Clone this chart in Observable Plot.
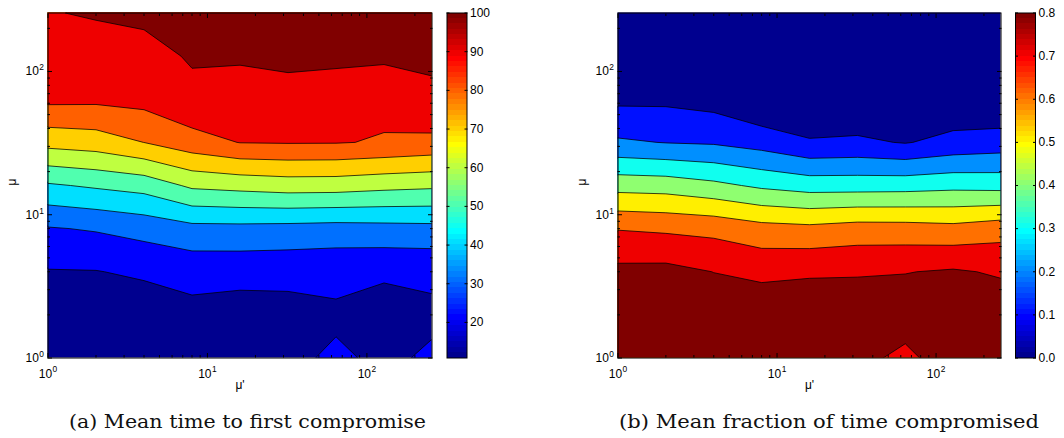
<!DOCTYPE html>
<html>
<head>
<meta charset="utf-8">
<script src="https://cdn.jsdelivr.net/npm/d3@7"></script>
<script src="https://cdn.jsdelivr.net/npm/@observablehq/plot@0.6"></script>
<style>
  body { margin: 0; background: #fff; }
  #fig { position: relative; width: 1064px; height: 438px; overflow: hidden; background: #fff; }
  #fig > svg, #fig > div { position: absolute; top: 0; }
  #fig text { font-family: 'Liberation Sans', Arial, Helvetica, sans-serif; }
  #fig text.caption { font-family: 'DejaVu Serif', 'Liberation Serif', serif; }
</style>
</head>
<body>
<div id="fig"></div>
<script>
// ---------- data ----------
const muPrime = [1, 2, 4, 8, 16, 32, 64, 128, 256];   // x grid
const mu      = [1, 2, 4, 8, 16, 32, 64, 128, 256];   // y grid

// (a) mean time to first compromise; rows = mu (1 -> 256), columns = mu'
const meanTime = [
  [12.0, 11.5, 11.0, 10.8, 12.0, 18.0, 21.0, 18.2, 20.9],
  [15.5, 15.5, 14.0, 17.1, 15.6, 16.4, 18.4, 15.5, 18.2],
  [19.2, 19.4, 21.2, 22.8, 22.8, 22.5, 22.0, 21.2, 21.3],
  [28.0, 29.4, 31.8, 34.9, 35.0, 34.6, 34.0, 34.5, 35.0],
  [45.4, 47.7, 49.9, 57.0, 58.4, 59.7, 59.5, 58.0, 57.0],
  [67.3, 68.8, 73.3, 78.5, 82.4, 82.7, 82.6, 81.5, 80.0],
  [84.3, 84.0, 85.0, 89.5, 89.5, 90.0, 89.8, 84.4, 90.0],
  [88.5, 89.5, 89.0, 91.7, 91.5, 91.75, 91.6, 92.7, 92.0],
  [90.9, 91.4, 92.4, 95.5, 98.0, 100.0, 99.0, 98.5, 97.0]
];

// (b) mean fraction of time compromised; rows = mu (1 -> 256), columns = mu'
const meanFraction = [
  [0.790, 0.795, 0.800, 0.790, 0.785, 0.744, 0.683, 0.776, 0.780],
  [0.770, 0.775, 0.760, 0.774, 0.773, 0.775, 0.768, 0.755, 0.767],
  [0.734, 0.737, 0.710, 0.690, 0.700, 0.702, 0.708, 0.721, 0.701],
  [0.618, 0.608, 0.597, 0.565, 0.555, 0.572, 0.570, 0.560, 0.585],
  [0.411, 0.405, 0.377, 0.340, 0.317, 0.317, 0.320, 0.331, 0.325],
  [0.190, 0.175, 0.168, 0.141, 0.096, 0.104, 0.084, 0.115, 0.130],
  [0.070, 0.071, 0.054, 0.002, 0.020, 0.010, 0.020, 0.019, 0.005],
  [0.030, 0.030, 0.020, 0.010, 0.010, 0.010, 0.010, 0.010, 0.005],
  [0.010, 0.010, 0.005, 0.000, 0.000, 0.000, 0.000, 0.000, 0.000]
];

const timeLevels     = [19.72, 28.64, 37.56, 46.48, 55.40, 64.32, 73.24, 82.16, 91.08];
const fractionLevels = [0.0889, 0.1778, 0.2667, 0.3556, 0.4444, 0.5333, 0.6222, 0.7111];
const timeRange      = [10.8, 100];
const fractionRange  = [0, 0.8];
const timeTicks      = [20, 30, 40, 50, 60, 70, 80, 90, 100];
const fractionTicks  = [0, 0.1, 0.2, 0.3, 0.4, 0.5, 0.6, 0.7, 0.8];
const decadeTicks    = [1, 10, 100];
const minorTicks     = [2, 3, 4, 5, 6, 7, 8, 9, 20, 30, 40, 50, 60, 70, 80, 90, 200];
const captionA = "(a) Mean time to first compromise";
const captionB = "(b) Mean fraction of time compromised";

// ---------- MATLAB jet(64) colormap ----------
function jet64(j) { // j: 1..64
  const u = k => (k < 1 || k > 47) ? 0 : k <= 16 ? k / 16 : k <= 31 ? 1 : (48 - k) / 16;
  const r = j >= 25 ? u(j - 24) : 0;
  const g = (j >= 9 && j <= 55) ? u(j - 8) : 0;
  const b = j <= 39 ? u(j + 8) : 0;
  return d3.rgb(Math.round(r * 255), Math.round(g * 255), Math.round(b * 255)).formatHex();
}

const FONT = "'Liberation Sans', Arial, Helvetica, sans-serif";
const ns = "http://www.w3.org/2000/svg";

function superscripts(svg) {
  svg.querySelectorAll("text").forEach(t => {
    const m = /^10\^(-?\d+)$/.exec(t.textContent);
    if (!m) return;
    t.textContent = "";
    const base = document.createElementNS(ns, "tspan");
    base.textContent = "10";
    const exp = document.createElementNS(ns, "tspan");
    exp.textContent = m[1];
    exp.setAttribute("font-size", "70%");
    exp.setAttribute("dy", "-0.6em");
    exp.setAttribute("dx", "0.5");
    t.appendChild(base);
    t.appendChild(exp);
  });
}

function contourPanel(values, levels, range, layout) {
  const lx = muPrime.map(Math.log10), ly = mu.map(Math.log10);
  const nx = lx.length, ny = ly.length;
  const sx = lx[1] - lx[0], sy = ly[1] - ly[0];
  const thresholds = [range[0] - 1, ...levels];
  const colors = thresholds.map((_, k) => jet64(Math.min(64, Math.floor(k / levels.length * 64) + 1)));
  const major = decadeTicks.map(Math.log10), minor = minorTicks.map(Math.log10);
  const svg = Plot.plot({
    width: layout.width, height: layout.height,
    marginLeft: layout.ml, marginRight: layout.mr, marginTop: layout.mt, marginBottom: layout.mb,
    style: {fontFamily: FONT, fontSize: "12px", color: "black", background: "transparent", overflow: "visible"},
    x: {type: "linear", domain: [lx[0], lx[nx - 1]]},
    y: {type: "linear", domain: [ly[0], ly[ny - 1]]},
    color: {type: "ordinal", domain: thresholds, range: colors},
    marks: [
      Plot.contour(values.flat(), {
        width: nx, height: ny,
        x1: lx[0] - sx / 2, x2: lx[nx - 1] + sx / 2,
        y1: ly[0] - sy / 2, y2: ly[ny - 1] + sy / 2,
        value: d => d,
        thresholds,
        fill: "value", stroke: "black", strokeWidth: 0.75, clip: true
      }),
      Plot.frame({stroke: "black", strokeWidth: 1}),
      // inward ticks, all four sides
      Plot.axisX({ticks: major, anchor: "bottom", tickSize: -4.5, fill: "none", label: null}),
      Plot.axisX({ticks: major, anchor: "top", tickSize: -4.5, fill: "none", label: null}),
      Plot.axisX({ticks: minor, anchor: "bottom", tickSize: -2.5, fill: "none", label: null}),
      Plot.axisX({ticks: minor, anchor: "top", tickSize: -2.5, fill: "none", label: null}),
      Plot.axisY({ticks: major, anchor: "left", tickSize: -4.5, fill: "none", label: null}),
      Plot.axisY({ticks: major, anchor: "right", tickSize: -4.5, fill: "none", label: null}),
      Plot.axisY({ticks: minor, anchor: "left", tickSize: -2.5, fill: "none", label: null}),
      Plot.axisY({ticks: minor, anchor: "right", tickSize: -2.5, fill: "none", label: null}),
      // tick labels
      Plot.axisX({ticks: major, anchor: "bottom", tickSize: 0, tickPadding: 11, stroke: "none",
                  tickFormat: d => "10^" + Math.round(d), label: null, fontSize: 12}),
      Plot.axisY({ticks: major, anchor: "left", tickSize: 0, tickPadding: 4, stroke: "none",
                  tickFormat: d => "10^" + Math.round(d), label: null, fontSize: 12}),
      // axis titles
      Plot.text(["μ'"], {frameAnchor: "bottom", dy: 31, fontSize: 12, fill: "black"}),
      Plot.text(["μ"], {frameAnchor: "left", dx: -36, rotate: -90, fontSize: 12, fill: "black"})
    ]
  });
  superscripts(svg);
  svg.style.left = layout.left + "px";
  return svg;
}

function colorbar(range, ticks, layout) {
  const steps = d3.range(64).map(i => ({
    y1: range[0] + i * (range[1] - range[0]) / 64,
    y2: range[0] + (i + 1) * (range[1] - range[0]) / 64,
    color: jet64(i + 1)
  }));
  const svg = Plot.plot({
    width: layout.width, height: layout.height,
    marginLeft: layout.ml, marginRight: layout.mr, marginTop: layout.mt, marginBottom: layout.mb,
    style: {fontFamily: FONT, fontSize: "12px", color: "black", background: "transparent", overflow: "visible"},
    x: {domain: [0, 1], axis: null},
    y: {domain: range},
    marks: [
      Plot.rect(steps, {x1: 0, x2: 1, y1: "y1", y2: "y2", fill: "color", shapeRendering: "crispEdges"}),
      Plot.frame({stroke: "black", strokeWidth: 1}),
      Plot.axisY({ticks, anchor: "left", tickSize: -3, fill: "none", label: null}),
      Plot.axisY({ticks, anchor: "right", tickSize: -3, fill: "none", label: null}),
      Plot.axisY({ticks, anchor: "right", tickSize: 0, tickPadding: 3, stroke: "none", label: null, fontSize: 12})
    ]
  });
  svg.style.left = layout.left + "px";
  return svg;
}

const fig = document.getElementById("fig");
fig.appendChild(contourPanel(meanTime, timeLevels, timeRange,
  {left: 0, width: 440, height: 395, ml: 47.5, mr: 8.5, mt: 12.5, mb: 37.5}));
fig.appendChild(colorbar(timeRange, timeTicks,
  {left: 440, width: 60, height: 395, ml: 6.5, mr: 33.5, mt: 12.5, mb: 37.5}));
fig.appendChild(contourPanel(meanFraction, fractionLevels, fractionRange,
  {left: 570, width: 440, height: 395, ml: 47.5, mr: 9.5, mt: 12.5, mb: 37.5}));
fig.appendChild(colorbar(fractionRange, fractionTicks,
  {left: 1010, width: 54, height: 395, ml: 5, mr: 29, mt: 12.5, mb: 37.5}));

// captions
const cap = document.createElementNS(ns, "svg");
cap.setAttribute("width", 1064); cap.setAttribute("height", 438);
cap.style.left = "0px"; cap.style.pointerEvents = "none";
[[captionA, 247.5, 357], [captionB, 829, 420]].forEach(([txt, cx, w]) => {
  const t = document.createElementNS(ns, "text");
  t.setAttribute("class", "caption");
  t.setAttribute("x", cx); t.setAttribute("y", 428);
  t.setAttribute("text-anchor", "middle");
  t.setAttribute("font-size", "18.3");
  t.setAttribute("textLength", w);
  t.setAttribute("lengthAdjust", "spacingAndGlyphs");
  t.setAttribute("fill", "#111");
  t.textContent = txt;
  cap.appendChild(t);
});
fig.appendChild(cap);
</script>
</body>
</html>
